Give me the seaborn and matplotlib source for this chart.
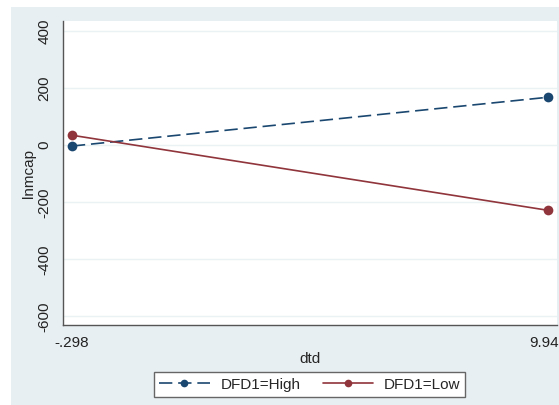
import matplotlib
matplotlib.use('Agg')
import matplotlib.pyplot as plt
import seaborn as sns
import pandas as pd
from matplotlib.patches import Rectangle

# data
dtd = [-0.298, 9.947]
dtd_labels = ['-.298', '9.947']
high = [-3, 168]
low = [35, -228]
groups = ['DFD1=High', 'DFD1=Low']
y_ticks = [-600, -400, -200, 0, 200, 400]

df = pd.DataFrame({
    'dtd': dtd * 2,
    'lnmcap': high + low,
    'group': [groups[0]] * 2 + [groups[1]] * 2,
})

sns.set_style('white')
plt.rcParams['font.family'] = ['Liberation Sans', 'DejaVu Sans']
plt.rcParams['font.size'] = 11

fig = plt.figure(figsize=(5.59, 4.05), dpi=100)
fig.patch.set_facecolor('white')
# stata-like light background panel
fig.patches.append(Rectangle((0.0197, 0), 0.9803, 0.983, transform=fig.transFigure,
                             facecolor='#e8eff2', edgecolor='none', zorder=-10))

ax = fig.add_axes([0.112, 0.1975, 0.884, 0.7505])
ax.set_facecolor('white')

palette = {groups[0]: '#1a476f', groups[1]: '#90353b'}
sns.lineplot(data=df, x='dtd', y='lnmcap', hue='group', style='group',
             palette=palette, dashes={groups[0]: (8, 3.5), groups[1]: ''},
             markers={groups[0]: 'o', groups[1]: 'o'}, markersize=7,
             markeredgewidth=0, linewidth=1.2, ax=ax, legend=True)

ax.set_xlim(-0.498, 10.14)
ax.set_ylim(-630, 435)
ax.set_xticks(dtd)
ax.set_xticklabels(dtd_labels)
ax.set_yticks(y_ticks)
ax.set_yticklabels([str(v) for v in y_ticks], rotation=90, va='center')
ax.grid(axis='y', color='#eaf2f3', linewidth=1)
ax.tick_params(axis='both', length=5, width=0.8, color='#555555', colors='#222222', pad=3)

for s in ['top', 'right']:
    ax.spines[s].set_visible(False)
for s in ['left', 'bottom']:
    ax.spines[s].set_color('#555555')
    ax.spines[s].set_linewidth(1.0)

ax.set_xlabel('dtd', labelpad=1)
ax.set_ylabel('lnmcap', labelpad=1)

handles, labels = ax.get_legend_handles_labels()
for h in handles:
    h.set_markersize(5.5)
ax.get_legend().remove()
fig.legend(handles, labels, loc='center', bbox_to_anchor=(0.554, 0.05), ncol=2,
           frameon=True, fancybox=False, edgecolor='#666666', framealpha=1,
           handlelength=3.3, columnspacing=1.45, handletextpad=0.7,
           borderpad=0.35, fontsize=11)

plt.savefig('out.png', dpi=100)
